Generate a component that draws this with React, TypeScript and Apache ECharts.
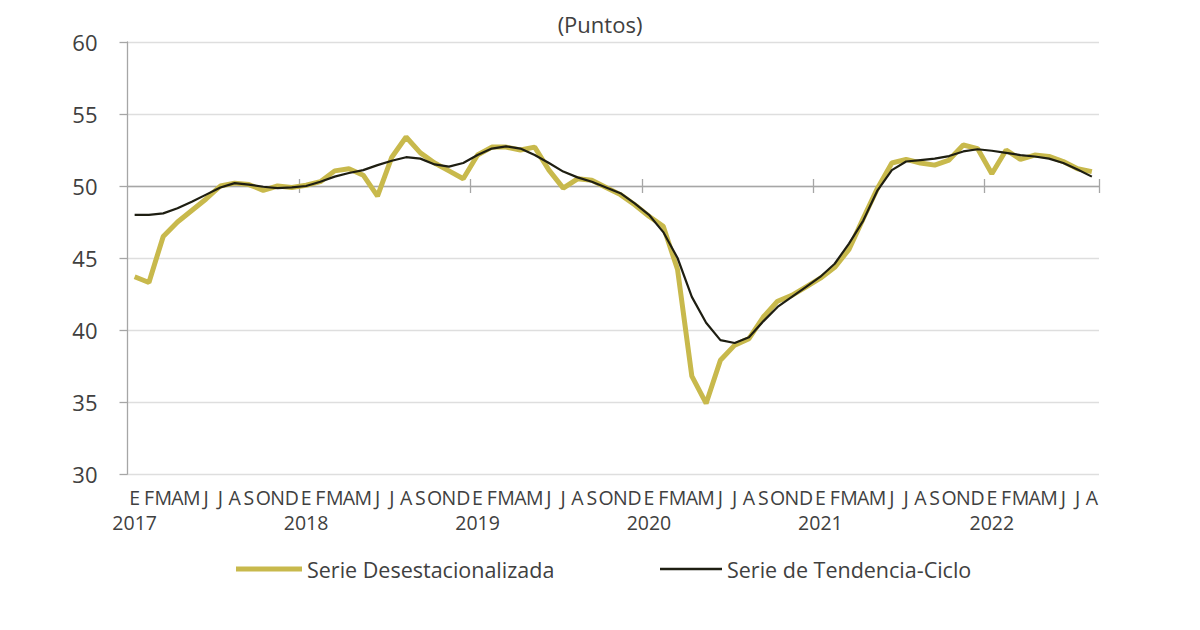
import React, { useEffect, useRef } from "react";
import * as echarts from "echarts";

const years = ["2017", "2018", "2019", "2020", "2021", "2022"];
const monthInitials = ["E", "F", "M", "A", "M", "J", "J", "A", "S", "O", "N", "D"];
const monthCount = 68; // Jan 2017 .. Aug 2022

const desestacionalizada = [
  43.7, 43.3, 46.5, 47.5, 48.3, 49.1, 50.0, 50.2, 50.1, 49.7, 50.0, 49.9,
  50.05, 50.3, 51.05, 51.2, 50.75, 49.3, 52.0, 53.4, 52.3, 51.6, 51.05, 50.5,
  52.15, 52.7, 52.7, 52.5, 52.7, 51.1, 49.85, 50.5, 50.4, 49.9, 49.4, 48.7,
  47.9, 47.2, 44.2, 36.8, 34.9, 37.9, 38.95, 39.4, 40.9, 42.0, 42.4, 43.0,
  43.6, 44.35, 45.6, 47.75, 49.85, 51.6, 51.85, 51.6, 51.45, 51.8, 52.85, 52.6,
  50.85, 52.5, 51.85, 52.15, 52.05, 51.7, 51.2, 51.0,
];

const tendenciaCiclo = [
  48.0, 48.0, 48.1, 48.45, 48.9, 49.4, 49.9, 50.2, 50.1, 49.95, 49.85, 49.9,
  50.0, 50.3, 50.65, 50.9, 51.1, 51.45, 51.75, 52.0, 51.9, 51.5, 51.35, 51.6,
  52.15, 52.6, 52.75, 52.6, 52.15, 51.6, 51.0, 50.6, 50.3, 49.9, 49.5, 48.8,
  48.0, 46.8, 45.0, 42.3, 40.5, 39.3, 39.1, 39.5, 40.6, 41.6, 42.3, 43.0,
  43.7, 44.6, 46.0, 47.6, 49.7, 51.1, 51.7, 51.8, 51.9, 52.08, 52.4, 52.55,
  52.45, 52.3, 52.15, 52.05, 51.9, 51.6, 51.15, 50.65,
];

const yTicks = { min: 30, max: 60, interval: 5 };

const categories: string[] = [];
for (let i = 0; i < monthCount; i++) {
  categories.push(years[Math.floor(i / 12)] + "-" + monthInitials[i % 12] + "-" + i);
}

const FONT = "'Open Sans', 'Noto Sans', sans-serif";
const TEXT = "#404040";

export default function App() {
  const ref = useRef<HTMLDivElement>(null);
  useEffect(() => {
    if (!ref.current) return;
    const chart = echarts.init(ref.current, null, { renderer: "svg" });
    const midAxisBase = {
      type: "category" as const,
      data: categories,
      boundaryGap: true,
      position: "bottom" as const,
      offset: -288,
      axisLabel: { show: false },
      splitLine: { show: false },
    };
    const yearTick = (i: number) => i % 12 === 0 && i > 0 && i < monthCount;
    chart.setOption({
      animation: false,
      backgroundColor: "#ffffff",
      textStyle: { fontFamily: FONT },
      title: {
        text: "(Puntos)",
        left: "center",
        top: 8,
        textStyle: { fontSize: 22, fontWeight: "normal", color: TEXT, fontFamily: FONT },
      },
      grid: { left: 127.5, right: 101, top: 42, bottom: 156 },
      legend: [
        {
          left: 236,
          top: 558,
          padding: 0,
          icon: "rect",
          itemWidth: 66,
          itemHeight: 5,
          data: ["Serie Desestacionalizada"],
          textStyle: { fontSize: 21.5, color: TEXT, fontFamily: FONT },
        },
        {
          left: 660,
          top: 558,
          padding: 0,
          icon: "rect",
          itemWidth: 62,
          itemHeight: 2.5,
          data: ["Serie de Tendencia-Ciclo"],
          textStyle: { fontSize: 21.5, color: TEXT, fontFamily: FONT },
        },
      ],
      xAxis: [
        {
          type: "category",
          data: categories,
          boundaryGap: true,
          axisLine: { show: false },
          axisTick: { show: false },
          splitLine: { show: false },
          axisLabel: {
            interval: 0,
            margin: 11,
            fontSize: 19.5,
            lineHeight: 25,
            color: TEXT,
            fontFamily: FONT,
            formatter: (_v: string, idx: number) =>
              monthInitials[idx % 12] + (idx % 12 === 0 ? "\n" + years[Math.floor(idx / 12)] : ""),
          },
        },
        {
          ...midAxisBase,
          axisLine: { show: true, onZero: false, lineStyle: { color: "#a6a6a6", width: 1.3 } },
          axisTick: {
            show: true,
            length: 7,
            interval: yearTick,
            lineStyle: { color: "#a6a6a6", width: 1.3 },
          },
        },
        {
          ...midAxisBase,
          axisLine: { show: false, onZero: false },
          axisTick: {
            show: true,
            inside: true,
            length: 7,
            interval: yearTick,
            lineStyle: { color: "#a6a6a6", width: 1.3 },
          },
        },
      ],
      yAxis: {
        type: "value",
        min: yTicks.min,
        max: yTicks.max,
        interval: yTicks.interval,
        axisLine: { show: true, lineStyle: { color: "#a6a6a6", width: 1.3 } },
        axisTick: { show: true, length: 8, lineStyle: { color: "#a6a6a6", width: 1.3 } },
        splitLine: { show: true, lineStyle: { color: "#dedede", width: 1.3 } },
        axisLabel: { fontSize: 22, color: TEXT, margin: 30, fontFamily: FONT },
      },
      series: [
        {
          name: "Serie Desestacionalizada",
          type: "line",
          data: desestacionalizada,
          symbol: "none",
          lineStyle: { color: "#c8b94c", width: 5 },
          itemStyle: { color: "#c8b94c" },
          z: 3,
        },
        {
          name: "Serie de Tendencia-Ciclo",
          type: "line",
          data: tendenciaCiclo,
          symbol: "none",
          lineStyle: { color: "#1e1e12", width: 2.2 },
          itemStyle: { color: "#1e1e12" },
          z: 4,
        },
      ],
    });
    return () => chart.dispose();
  }, []);
  return (
    <div
      ref={ref}
      style={{ position: "fixed", left: 0, top: 0, width: 1200, height: 630, background: "#fff" }}
    />
  );
}
